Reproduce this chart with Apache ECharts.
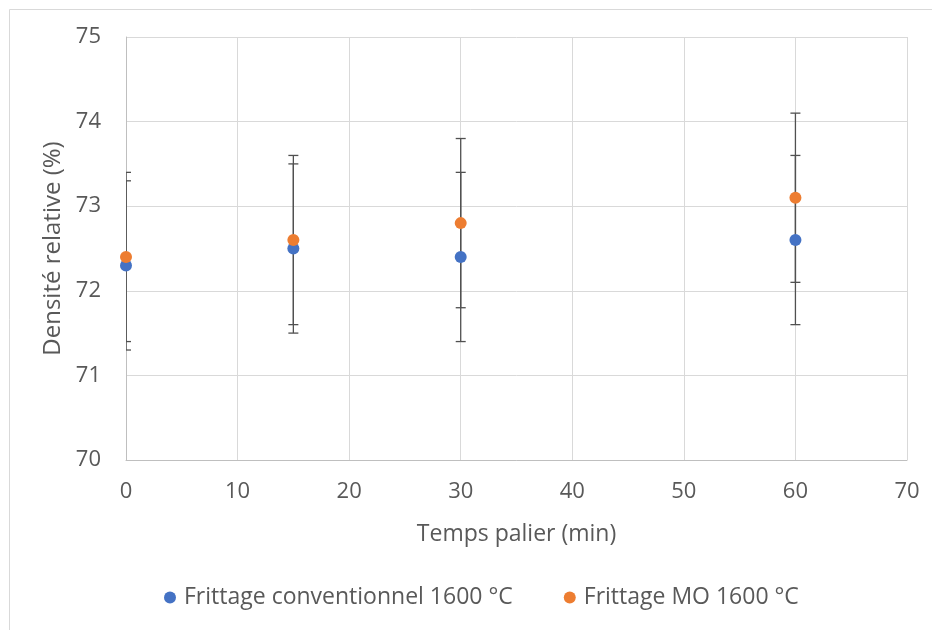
<!DOCTYPE html>
<html><head><meta charset="utf-8">
<script src="https://cdn.jsdelivr.net/npm/echarts@6/dist/echarts.min.js"></script>
<style>html,body{margin:0;padding:0;background:#fff}#c{width:932px;height:630px}</style>
</head><body><div id="c"></div>
<script>
const times = [0, 15, 30, 60];
const convValues = [72.3, 72.5, 72.4, 72.6];
const convErr = [1.0, 1.0, 1.0, 1.0];
const moValues = [72.4, 72.6, 72.8, 73.1];
const moErr = [1.0, 1.0, 1.0, 1.0];
const seriesNames = ['Frittage conventionnel 1600 °C', 'Frittage MO 1600 °C'];
const xTitle = 'Temps palier (min)';
const yTitle = 'Densité relative (%)';

const FONT = 'Open Sans';
const TXT = '#595959';

function errData(vals, errs) {
  return times.map((t, i) => [t, vals[i] - errs[i], vals[i] + errs[i]]);
}
function errRender(params, api) {
  const x = api.value(0);
  const lo = api.coord([x, api.value(1)]);
  const hi = api.coord([x, api.value(2)]);
  const w = 5;
  const style = { stroke: '#505050', lineWidth: 1.3, fill: null };
  return {
    type: 'group',
    children: [
      { type: 'line', shape: { x1: hi[0], y1: hi[1], x2: lo[0], y2: lo[1] }, style },
      { type: 'line', shape: { x1: hi[0] - w, y1: hi[1], x2: hi[0] + w, y2: hi[1] }, style },
      { type: 'line', shape: { x1: lo[0] - w, y1: lo[1], x2: lo[0] + w, y2: lo[1] }, style }
    ]
  };
}

const chart = echarts.init(document.getElementById('c'), null, { renderer: 'canvas' });
chart.setOption({
  animation: false,
  backgroundColor: '#fff',
  graphic: [
    { type: 'line', shape: { x1: 9.5, y1: 9.5, x2: 932, y2: 9.5 }, style: { stroke: '#d9d9d9', lineWidth: 1 } },
    { type: 'line', shape: { x1: 9.5, y1: 9.5, x2: 9.5, y2: 630 }, style: { stroke: '#d9d9d9', lineWidth: 1 } }
  ],
  grid: { left: 126, right: 25, top: 37, bottom: 170, containLabel: false },
  xAxis: {
    type: 'value', min: 0, max: 70, interval: 10,
    name: xTitle, nameLocation: 'middle', nameGap: 63,
    nameTextStyle: { fontFamily: FONT, fontSize: 23, color: TXT },
    axisLine: { show: true, lineStyle: { color: '#bfbfbf', width: 1 } },
    axisTick: { show: false },
    axisLabel: { fontFamily: FONT, fontSize: 22, color: TXT, margin: 21 },
    splitLine: { show: true, lineStyle: { color: '#d9d9d9', width: 1 } }
  },
  yAxis: {
    type: 'value', min: 70, max: 75, interval: 1,
    name: yTitle, nameLocation: 'middle', nameGap: 59, nameRotate: 90,
    nameTextStyle: { fontFamily: FONT, fontSize: 24, color: TXT },
    axisLine: { show: true, lineStyle: { color: '#bfbfbf', width: 1 } },
    axisTick: { show: false },
    axisLabel: { fontFamily: FONT, fontSize: 22, color: TXT, margin: 25 },
    splitLine: { show: true, lineStyle: { color: '#d9d9d9', width: 1 } }
  },
  legend: {
    bottom: 16, left: 159, itemGap: 51, itemWidth: 12, itemHeight: 12,
    icon: 'circle',
    textStyle: { fontFamily: FONT, fontSize: 23, color: TXT, padding: [0, 0, 0, 3] },
    data: seriesNames
  },
  series: [
    { type: 'custom', name: 'errConv', renderItem: errRender, data: errData(convValues, convErr), clip: true, z: 1, silent: true },
    { type: 'custom', name: 'errMo', renderItem: errRender, data: errData(moValues, moErr), clip: true, z: 1, silent: true },
    { type: 'scatter', name: seriesNames[0], data: times.map((t, i) => [t, convValues[i]]),
      symbolSize: 12, itemStyle: { color: '#4472C4', opacity: 1 }, z: 3 },
    { type: 'scatter', name: seriesNames[1], data: times.map((t, i) => [t, moValues[i]]),
      symbolSize: 12, itemStyle: { color: '#ED7D31', opacity: 1 }, z: 4 }
  ]
});
</script></body></html>
